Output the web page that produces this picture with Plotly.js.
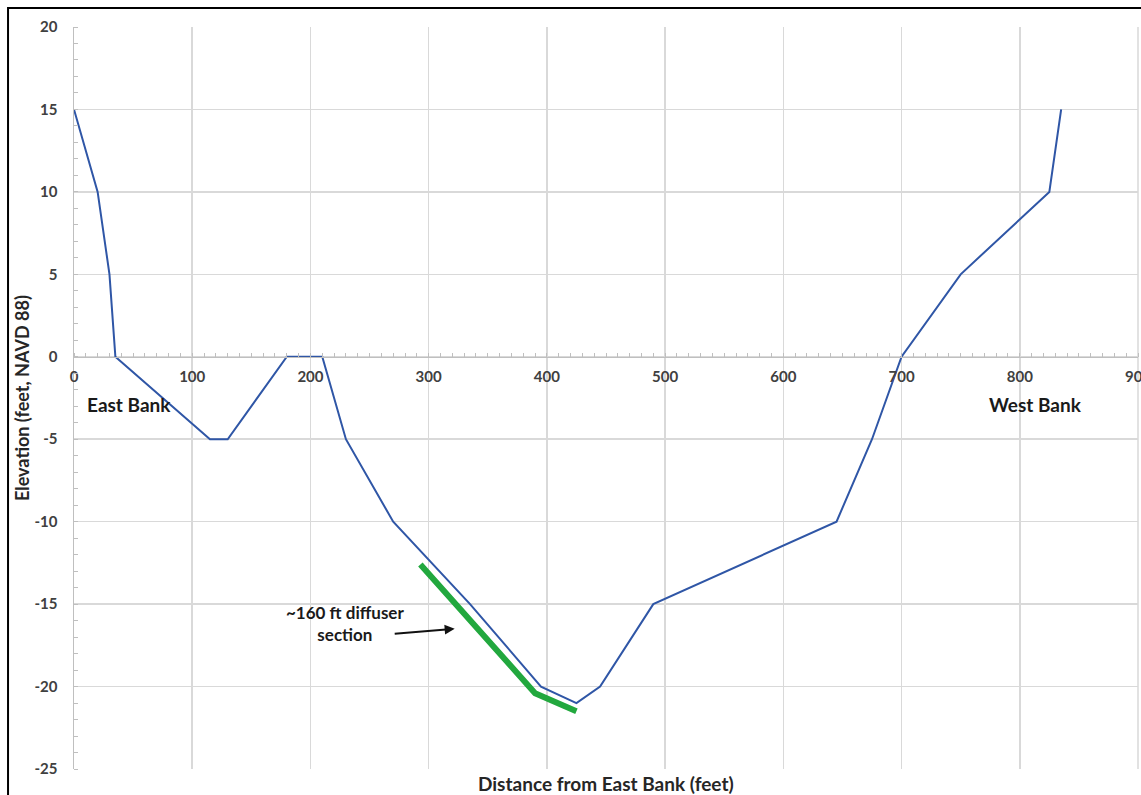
<!DOCTYPE html>
<html>
<head>
<meta charset="utf-8">
<script src="https://cdn.plot.ly/plotly-3.0.1.min.js"></script>
<style>html,body{margin:0;padding:0;background:#fff;}#chart{width:1141px;height:795px;}</style>
</head>
<body>
<div id="chart"></div>
<script>
// Channel cross-section
const distance = [0, 20, 30, 35, 115, 130, 180, 210, 230, 270, 335, 395, 425, 445, 490, 645, 675, 700, 750, 825, 835];
const elevation = [15, 10, 5, 0, -5, -5, 0, 0, -5, -10, -15, -20, -21, -20, -15, -10, -5, 0, 5, 10, 15];
// Diffuser section
const diffuserDistance = [293, 390, 425];
const diffuserElevation = [-12.6, -20.4, -21.5];
// Tick labels
const xTicks = [0, 100, 200, 300, 400, 500, 600, 700, 800, 900];
const yTicks = [-25, -20, -15, -10, -5, 0, 5, 10, 15, 20];

const FONT = 'Lato, "Open Sans", sans-serif';
const grid = '#d9d9d9';

const traces = [
  {x: distance, y: elevation, type: 'scatter', mode: 'lines',
   line: {color: '#2f56a6', width: 2}, hoverinfo: 'skip'},
  {x: diffuserDistance, y: diffuserElevation, type: 'scatter', mode: 'lines',
   line: {color: '#22a83e', width: 6}, hoverinfo: 'skip'}
];

const layout = {
  width: 1141, height: 795,
  margin: {l: 74, r: 3, t: 27, b: 26},
  paper_bgcolor: '#fff', plot_bgcolor: '#fff',
  showlegend: false,
  font: {family: FONT, size: 15, color: '#404040'},
  xaxis: {
    range: [0, 900], tickvals: xTicks, ticktext: xTicks.map(String),
    anchor: 'free', position: 25/45,
    showgrid: true, gridcolor: grid, gridwidth: 1.5,
    zeroline: false, showline: true, linecolor: '#bfbfbf', linewidth: 1.5,
    ticks: '', ticklabelstandoff: 6, ticklabeloverflow: 'allow',
    tickfont: {family: FONT, size: 15, color: '#404040', weight: 'bold'},
    minor: {dtick: 10, ticks: 'inside', ticklen: 4, tickcolor: '#bfbfbf', showgrid: false},
    fixedrange: true
  },
  yaxis: {
    range: [-25, 20], tickvals: yTicks, ticktext: yTicks.map(String),
    showgrid: true, gridcolor: grid, gridwidth: 1.5,
    zeroline: false, showline: true, linecolor: '#bfbfbf', linewidth: 1.5,
    ticks: '', ticklabelstandoff: 12,
    tickfont: {family: FONT, size: 15, color: '#404040', weight: 'bold'},
    minor: {dtick: 1, ticks: 'inside', ticklen: 4, tickcolor: '#bfbfbf', showgrid: false},
    fixedrange: true
  },
  shapes: [
    {type: 'rect', xref: 'paper', yref: 'paper', x0: -0.062, x1: 1.05, y0: -0.1, y1: 1.0256,
     line: {color: '#000', width: 2}, layer: 'above'},
    {type: 'line', xref: 'paper', yref: 'paper', x0: 1, x1: 1, y0: 0, y1: 1,
     line: {color: grid, width: 1.5}, layer: 'below'}
  ],
  annotations: [
    {x: 0.5, y: -0.0195, xref: 'paper', yref: 'paper', xanchor: 'center', yanchor: 'middle',
     text: '<b>Distance from East Bank (feet)</b>', showarrow: false,
     font: {family: FONT, size: 19, color: '#262626'}},
    {x: -0.0488, y: 0.5, xref: 'paper', yref: 'paper', xanchor: 'center', yanchor: 'middle',
     text: '<b>Elevation (feet, NAVD 88)</b>', textangle: -90, showarrow: false,
     font: {family: FONT, size: 18, color: '#262626'}},
    {x: 46.5, y: -2.9, xref: 'x', yref: 'y', text: '<b>East Bank</b>', showarrow: false,
     font: {family: FONT, size: 19, color: '#1a1a1a'}},
    {x: 813, y: -2.9, xref: 'x', yref: 'y', text: '<b>West Bank</b>', showarrow: false,
     font: {family: FONT, size: 19, color: '#1a1a1a'}},
    {x: 229, y: -16.2, xref: 'x', yref: 'y', text: '<b>~160 ft diffuser<br>section</b>', showarrow: false,
     align: 'center', font: {family: FONT, size: 17, color: '#1a1a1a'}},
    {x: 322, y: -16.5, ax: 270, ay: -16.8, xref: 'x', yref: 'y', axref: 'x', ayref: 'y',
     text: '', showarrow: true, arrowhead: 2, arrowsize: 1, arrowwidth: 2, arrowcolor: '#111'}
  ]
};

Plotly.newPlot('chart', traces, layout, {staticPlot: true, displayModeBar: false});
</script>
</body>
</html>
